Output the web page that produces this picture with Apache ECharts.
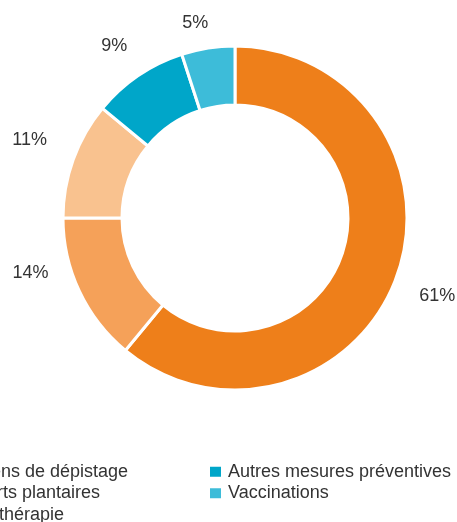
<!DOCTYPE html>
<html>
<head>
<meta charset="utf-8">
<script src="https://cdn.jsdelivr.net/npm/echarts@6/dist/echarts.min.js"></script>
<style>
  html, body { margin: 0; padding: 0; background: #fff; }
  #chart { width: 457px; height: 522px; }
</style>
</head>
<body>
<div id="chart"></div>
<script>
// categories and shares (%), clockwise from the top
const categories = ['Examens de dépistage', 'Supports plantaires', 'Physiothérapie', 'Autres mesures préventives', 'Vaccinations'];
const shares = [61, 14, 11, 9, 5];
const colors = ['#ee7f1a', '#f5a159', '#f9c28f', '#00a6c9', '#3dbcd9'];

// labels in the original sit a little off the slice middles
const labelNudge = { 0: [0, 5], 1: [-10, -37], 2: [-3, -5], 3: [0, 6], 4: [-6, 17] };

const font = '"Liberation Sans", Arial, Helvetica, sans-serif';
const legendText = { fontFamily: font, fontSize: 18, color: '#333', lineHeight: 21.5, padding: [0, 0, 0, 1] };
const chart = echarts.init(document.getElementById('chart'));

chart.setOption({
    animation: false,
    color: colors,
    legend: [
        {
            data: categories.slice(0, 3),
            orient: 'vertical',
            left: -80,
            top: 456,
            height: 80,
            icon: 'rect',
            itemWidth: 13,
            itemHeight: 12,
            itemGap: 0,
            selectedMode: false,
            textStyle: legendText
        },
        {
            data: categories.slice(3),
            orient: 'vertical',
            left: 203,
            top: 456,
            height: 80,
            icon: 'rect',
            itemWidth: 13,
            itemHeight: 12,
            itemGap: 0,
            selectedMode: false,
            textStyle: legendText
        }
    ],
    series: [
        {
            type: 'pie',
            center: [235, 218],
            radius: [113, 172],
            startAngle: 90,
            clockwise: true,
            label: { show: false },
            labelLine: { show: false },
            emphasis: { disabled: true },
            itemStyle: { borderColor: '#fff', borderWidth: 3 },
            data: categories.map((name, i) => ({ name: name, value: shares[i] }))
        },
        {
            // invisible ring that only carries the percentage labels
            type: 'pie',
            center: [235, 218],
            radius: [198, 226],
            startAngle: 90,
            clockwise: true,
            silent: true,
            emphasis: { disabled: true },
            itemStyle: { color: 'rgba(0,0,0,0)' },
            labelLine: { show: false },
            data: shares.map((v, i) => ({
                name: 'lbl' + i,
                value: v,
                label: labelNudge[i] ? { offset: labelNudge[i] } : undefined
            })),
            label: {
                show: true,
                position: 'inside',
                fontFamily: font,
                fontSize: 18,
                fontWeight: 'normal',
                color: '#333',
                textBorderWidth: 0,
                formatter: p => p.value + '%'
            }
        }
    ]
});
</script>
</body>
</html>
